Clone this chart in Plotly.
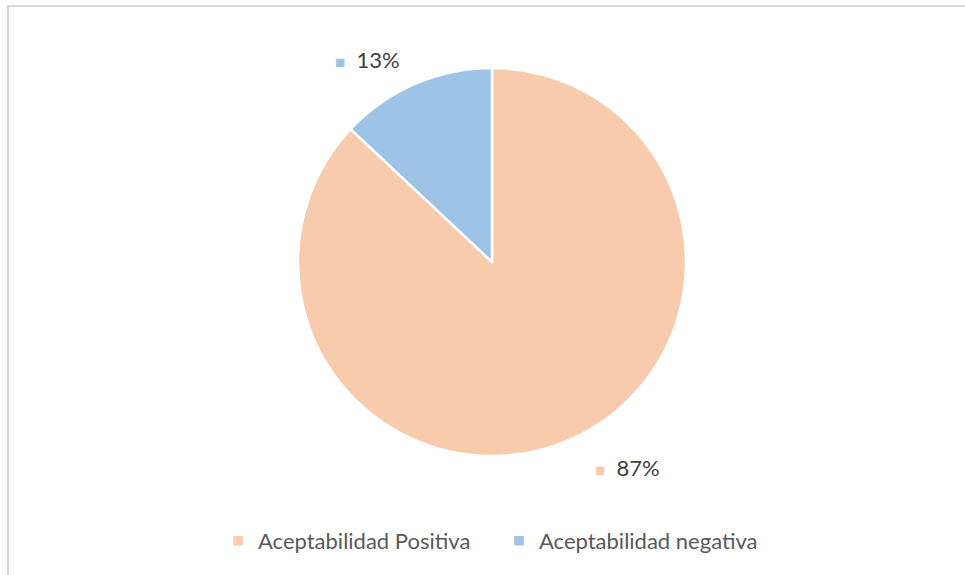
import plotly.graph_objects as go

labels = ["Aceptabilidad Positiva", "Aceptabilidad negativa"]
values = [87, 13]
colors = ["#F8CBAD", "#9DC3E6"]

W, H = 965, 575
cx, cy, r = 492, 262, 194

fig = go.Figure(go.Pie(
    labels=labels,
    values=values,
    marker=dict(colors=colors, line=dict(color="white", width=2.5)),
    sort=False,
    direction="clockwise",
    rotation=0,
    textinfo="none",
    hoverinfo="label+percent",
    domain=dict(x=[(cx - r) / W, (cx + r) / W],
                y=[(H - cy - r) / H, (H - cy + r) / H]),
))

total = sum(values)
pct = [f"{round(v * 100 / total)}%" for v in values]
label_pos = [(593, 467), (333, 60)]  # pixel positions (left, middle)
for (px, py), t, c in zip(label_pos, pct, colors):
    fig.add_annotation(
        x=px / W, y=1 - py / H, xref="paper", yref="paper",
        xanchor="left", yanchor="middle", showarrow=False,
        text=f'<span style="color:{c};font-size:17px">■</span>  {t}',
        font=dict(family="Lato", size=22, color="#404040"),
    )

fig.add_shape(type="rect", xref="paper", yref="paper",
              x0=8 / W, x1=1.5, y0=-0.5, y1=1 - 6 / H,
              line=dict(color="#d9d9d9", width=2), fillcolor="rgba(0,0,0,0)")

fig.update_layout(
    width=W, height=H,
    margin=dict(l=0, r=0, t=0, b=0),
    paper_bgcolor="white",
    plot_bgcolor="white",
    showlegend=True,
    legend=dict(orientation="h", x=218 / W, xanchor="left",
                y=(H - 541) / H, yanchor="middle",
                font=dict(family="Lato", size=22, color="#595959"),
                itemwidth=30, entrywidth=236, entrywidthmode="pixels"),
)

fig.write_html(
    "out.html",
    config={"displayModeBar": False},
    post_script="document.body.style.margin='0';document.body.style.overflow='hidden';",
)
